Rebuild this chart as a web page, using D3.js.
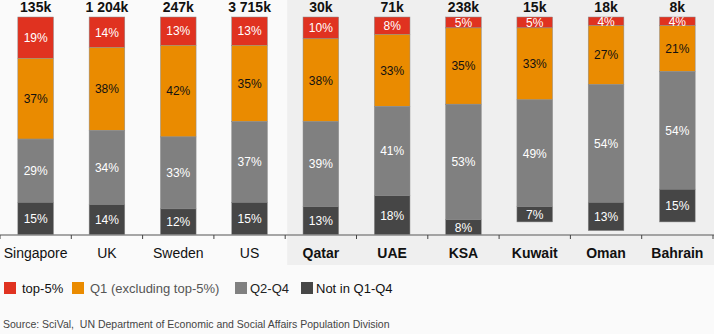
<!DOCTYPE html>
<html>
<head>
<meta charset="utf-8">
<script src="https://cdn.jsdelivr.net/npm/d3@7"></script>
<style>
  html, body { margin: 0; padding: 0; background: #fafafa; }
  svg { display: block; font-family: "Liberation Sans", Arial, sans-serif; }
</style>
</head>
<body>
<svg id="chart" width="714" height="334"></svg>
<script>
// Share of publications by journal quartile, per country
const categories = ["Singapore", "UK", "Sweden", "US", "Qatar", "UAE", "KSA", "Kuwait", "Oman", "Bahrain"];
const totals = ["135k", "1 204k", "247k", "3 715k", "30k", "71k", "238k", "15k", "18k", "8k"];
const top5 = [19, 14, 13, 13, 10, 8, 5, 5, 4, 4];
const q1 = [37, 38, 42, 35, 38, 33, 35, 33, 27, 21];
const q2q4 = [29, 34, 33, 37, 39, 41, 53, 49, 54, 54];
const notIn = [15, 14, 12, 15, 13, 18, 8, 7, 13, 15];
const gulfStart = 4; // first Gulf country (highlighted group)

const seriesKeys = ["top5", "q1", "q2q4", "notIn"];
const seriesNames = ["top-5%", "Q1 (excluding top-5%)", "Q2-Q4", "Not in Q1-Q4"];
const colors = { top5: "#e03220", q1: "#ea8b00", q2q4: "#808080", notIn: "#464646" };
const labelColors = { top5: "#ffffff", q1: "#111111", q2q4: "#ffffff", notIn: "#ffffff" };

const rows = categories.map((c, i) => ({
  country: c, total: totals[i],
  top5: top5[i], q1: q1[i], q2q4: q2q4[i], notIn: notIn[i]
}));

const W = 714, H = 334;
const svg = d3.select("#chart");

const x = d3.scaleBand().domain(categories).range([0, 713])
  .paddingInner(0.5).paddingOuter(0.25);
// stacked from the top edge downward
const y = d3.scaleLinear().domain([0, 100]).range([17, 235]);
const axisY = 235;

const boundary = c => x(c) - x.step() * 0.25;

// bars never run past the axis line
svg.append("defs").append("clipPath").attr("id", "plot-clip")
  .append("rect").attr("x", 0).attr("y", 0).attr("width", W).attr("height", axisY);

// shaded panel behind the Gulf group
svg.append("rect")
  .attr("x", boundary(categories[gulfStart]) + 2).attr("y", 0)
  .attr("width", W - boundary(categories[gulfStart]) - 2).attr("height", 265)
  .attr("fill", "#efefef");

const stacked = d3.stack().keys(seriesKeys)(rows);

const layers = svg.append("g").attr("clip-path", "url(#plot-clip)")
  .selectAll("g").data(stacked).join("g")
  .attr("fill", d => colors[d.key]);

layers.selectAll("rect").data(d => d).join("rect")
  .attr("x", d => x(d.data.country))
  .attr("width", x.bandwidth())
  .attr("y", d => y(d[0]))
  .attr("height", d => y(d[1]) - y(d[0]))
  .attr("stroke", "#8c8c8c").attr("stroke-width", 0.5);

// segment value labels
const labelLayers = svg.append("g").selectAll("g").data(stacked).join("g")
  .attr("fill", d => labelColors[d.key]);
labelLayers.selectAll("text").data(d => d.map(v => Object.assign(v, { key: d.key }))).join("text")
  .attr("x", d => x(d.data.country) + x.bandwidth() / 2)
  .attr("y", d => (y(d[0]) + Math.min(y(d[1]), axisY)) / 2)
  .attr("dy", "0.36em")
  .attr("text-anchor", "middle")
  .attr("font-size", 12)
  .text(d => d.data[d.key] + "%");

// totals above the bars
svg.append("g").selectAll("text").data(rows).join("text")
  .attr("x", d => x(d.country) + x.bandwidth() / 2)
  .attr("y", 12)
  .attr("text-anchor", "middle")
  .attr("font-size", 14).attr("font-weight", "bold").attr("fill", "#111")
  .text(d => d.total);

// category axis
const axis = svg.append("g");
axis.append("line")
  .attr("x1", 0).attr("x2", W).attr("y1", axisY).attr("y2", axisY)
  .attr("stroke", "#8a8a8a").attr("stroke-width", 1.5);
const tickXs = categories.map(boundary).concat([x(categories[categories.length - 1]) + x.bandwidth() + x.step() * 0.25]);
axis.selectAll("line.tick").data(tickXs).join("line")
  .attr("class", "tick")
  .attr("x1", d => d).attr("x2", d => d)
  .attr("y1", axisY).attr("y2", axisY + 4)
  .attr("stroke", "#444").attr("stroke-width", 1);
axis.selectAll("text").data(categories).join("text")
  .attr("x", d => x(d) + x.bandwidth() / 2)
  .attr("y", 258)
  .attr("text-anchor", "middle")
  .attr("font-size", 14)
  .attr("font-weight", (d, i) => i >= gulfStart ? "bold" : "normal")
  .attr("fill", "#111")
  .text(d => d);

// legend
const legendX = [4, 72, 235, 301];
const legendTextColors = ["#111", "#555", "#222", "#111"];
const legend = svg.append("g").selectAll("g").data(seriesKeys).join("g")
  .attr("transform", (d, i) => `translate(${legendX[i]},282)`);
legend.append("rect").attr("width", 12).attr("height", 12)
  .attr("fill", d => colors[d]);
legend.append("text")
  .attr("x", (d, i) => i >= 2 ? 15 : 18).attr("y", 11)
  .attr("font-size", 13)
  .attr("fill", (d, i) => legendTextColors[i])
  .text((d, i) => seriesNames[i]);

// source note
svg.append("text")
  .attr("x", 3).attr("y", 328)
  .attr("font-size", 10.5).attr("fill", "#444")
  .style("white-space", "pre")
  .text("Source: SciVal,  UN Department of Economic and Social Affairs Population Division");
</script>
</body>
</html>
